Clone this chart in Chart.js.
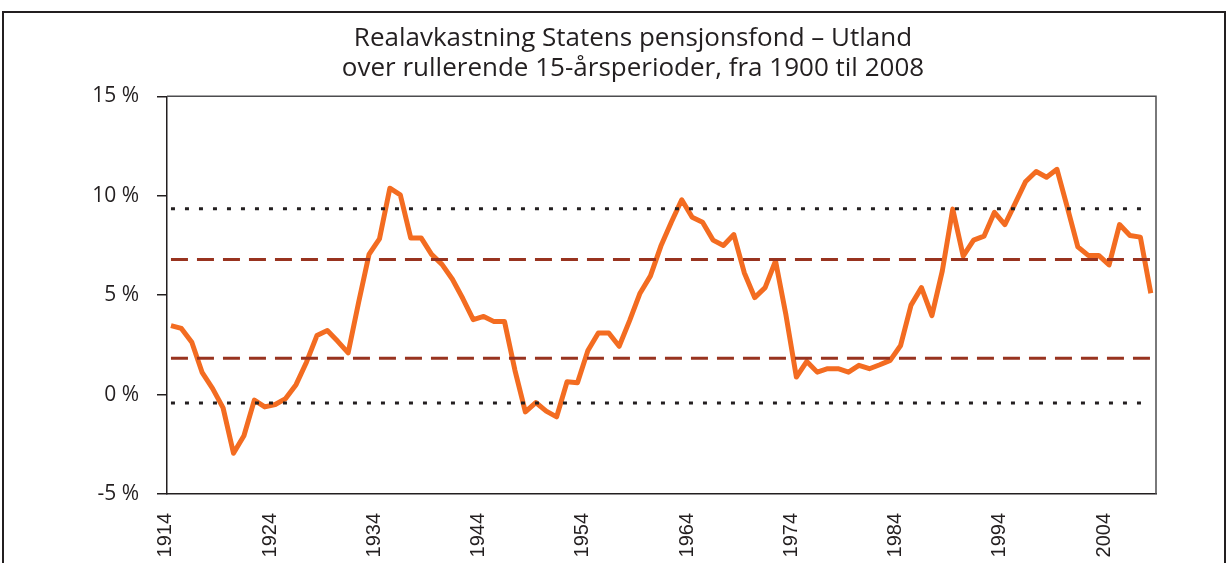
<!DOCTYPE html>
<html>
<head>
<meta charset="utf-8">
<script src="https://cdn.jsdelivr.net/npm/chart.js@4.4.0/dist/chart.umd.min.js"></script>
<style>
  html, body { margin: 0; padding: 0; background: #fff; overflow: hidden; }
  #frame { position: absolute; left: 2px; top: 11px; width: 1220px; height: 600px; border: 2px solid #231f20; }
  #chart { position: absolute; left: 0; top: 0; }
</style>
</head>
<body>
<div id="frame"></div>
<canvas id="chart" width="1228" height="563"></canvas>
<script>
const titleLines = ["Realavkastning Statens pensjonsfond \u2013 Utland", "over rullerende 15-\u00e5rsperioder, fra 1900 til 2008"];

const years = [
  1914, 1915, 1916, 1917, 1918, 1919, 1920, 1921, 1922, 1923,
  1924, 1925, 1926, 1927, 1928, 1929, 1930, 1931, 1932, 1933,
  1934, 1935, 1936, 1937, 1938, 1939, 1940, 1941, 1942, 1943,
  1944, 1945, 1946, 1947, 1948, 1949, 1950, 1951, 1952, 1953,
  1954, 1955, 1956, 1957, 1958, 1959, 1960, 1961, 1962, 1963,
  1964, 1965, 1966, 1967, 1968, 1969, 1970, 1971, 1972, 1973,
  1974, 1975, 1976, 1977, 1978, 1979, 1980, 1981, 1982, 1983,
  1984, 1985, 1986, 1987, 1988, 1989, 1990, 1991, 1992, 1993,
  1994, 1995, 1996, 1997, 1998, 1999, 2000, 2001, 2002, 2003,
  2004, 2005, 2006, 2007, 2008
];

// real return, % per year over rolling 15-year windows
const realReturn = [
  3.47, 3.33, 2.63, 1.10, 0.30, -0.67, -2.95, -2.07, -0.28, -0.62,
  -0.50, -0.20, 0.50, 1.63, 2.97, 3.22, 2.68, 2.10, 4.63, 7.05,
  7.83, 10.38, 10.05, 7.88, 7.88, 7.05, 6.55, 5.80, 4.83, 3.77,
  3.93, 3.67, 3.67, 1.22, -0.87, -0.40, -0.83, -1.12, 0.65, 0.60,
  2.22, 3.10, 3.10, 2.43, 3.72, 5.10, 5.97, 7.47, 8.67, 9.80,
  8.92, 8.67, 7.77, 7.50, 8.05, 6.13, 4.88, 5.38, 6.72, 4.00,
  0.88, 1.67, 1.13, 1.30, 1.30, 1.13, 1.47, 1.30, 1.50, 1.72,
  2.47, 4.50, 5.38, 3.97, 6.22, 9.33, 6.97, 7.77, 7.97, 9.17,
  8.55, 9.63, 10.72, 11.22, 10.93, 11.33, 9.40, 7.43, 7.00, 7.00,
  6.52, 8.55, 8.00, 7.92, 5.10
];

// horizontal reference levels
const outerBand = [9.35, -0.42];
const innerBand = [6.8, 1.83];

const xTickYears = [1914, 1924, 1934, 1944, 1954, 1964, 1974, 1984, 1994, 2004];
const yTicks = [-5, 0, 5, 10, 15];

const ink = "#231f20";

function level(v) {
  return [{ x: years[0], y: v }, { x: years[years.length - 1], y: v }];
}

const refSets = [];
outerBand.forEach(v => refSets.push({
  data: level(v), borderColor: ink, borderWidth: 3, borderDash: [4, 10],
  borderCapStyle: "butt", pointRadius: 0
}));
innerBand.forEach(v => refSets.push({
  data: level(v), borderColor: "#98331f", borderWidth: 3, borderDash: [17, 9],
  borderCapStyle: "butt", pointRadius: 0
}));

const boxPlugin = {
  id: "box",
  afterDatasetsDraw(chart) {
    const { ctx, chartArea: a } = chart;
    ctx.save();
    ctx.strokeStyle = "#4d4d4f";
    ctx.lineWidth = 1.5;
    ctx.beginPath();
    ctx.moveTo(a.left, a.top);
    ctx.lineTo(a.right, a.top);
    ctx.lineTo(a.right, a.bottom);
    ctx.stroke();
    ctx.restore();
  }
};

new Chart(document.getElementById("chart"), {
  type: "line",
  data: {
    datasets: [
      ...refSets,
      {
        data: years.map((y, i) => ({ x: y, y: realReturn[i] })),
        borderColor: "#f36c21",
        borderWidth: 5,
        borderJoinStyle: "round",
        tension: 0,
        pointRadius: 0
      }
    ]
  },
  options: {
    responsive: false,
    animation: false,
    devicePixelRatio: 1,
    layout: { padding: { left: 38, right: 0, top: 0, bottom: 0 } },
    plugins: {
      legend: { display: false },
      tooltip: { enabled: false },
      title: {
        display: true,
        text: titleLines,
        color: ink,
        font: { family: "Open Sans", size: 26, weight: "normal", lineHeight: 1.18 },
        padding: { top: 23, bottom: 12 }
      }
    },
    scales: {
      x: {
        type: "linear",
        min: 1913.62,
        max: 2008.5,
        afterBuildTicks: s => { s.ticks = xTickYears.map(v => ({ value: v })); },
        afterFit: s => { s.height = 69; },
        grid: { display: false, drawTicks: false },
        border: { display: true, color: ink, width: 1.5 },
        ticks: {
          autoSkip: false,
          minRotation: 90,
          maxRotation: 90,
          padding: 19,
          labelOffset: -5,
          color: ink,
          font: { family: "Liberation Sans", size: 20 },
          callback: v => String(v)
        }
      },
      y: {
        min: -5,
        max: 15,
        afterBuildTicks: s => { s.ticks = yTicks.map(v => ({ value: v })); },
        afterFit: s => { s.width = 129; },
        grid: { drawOnChartArea: false, drawTicks: true, tickLength: 10, color: ink, lineWidth: 1.5 },
        border: { display: true, color: ink, width: 1.5 },
        ticks: {
          padding: 18,
          color: ink,
          font: { family: "Open Sans", size: 21 },
          callback: v => v + " %"
        }
      },
      // empty right-hand spacer so the plot ends where the reference's does
      spacer: {
        position: "right",
        afterFit: s => { s.width = 72; },
        grid: { display: false },
        border: { display: false },
        ticks: { display: false }
      }
    }
  },
  plugins: [boxPlugin]
});
</script>
</body>
</html>
